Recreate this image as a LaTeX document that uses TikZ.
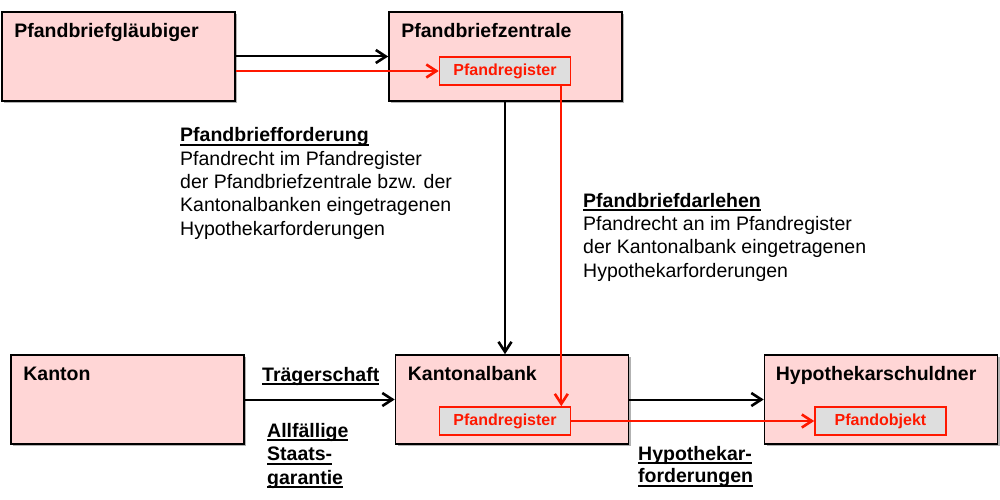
\documentclass[tikz,border=0pt]{standalone}
\usepackage{fontspec}
\setmainfont{Liberation Sans}
\usepackage{xcolor}
\usepackage{tikz}
\usetikzlibrary{positioning}
\usetikzlibrary{arrows.meta,shadows}
\definecolor{boxpink}{RGB}{255,214,214}
\definecolor{reggray}{RGB}{222,222,222}
\definecolor{regred}{RGB}{255,24,0}
\tikzset{edge/.style = {-{Straight Barb[length=10pt,width=13pt,line width=2.6pt]}, line width=2pt}}
\newcommand{\uln}[1]{\setbox0=\hbox{#1}\rlap{\rule[-4pt]{\wd0}{1.8pt}}\box0}

\begin{document}
\begin{tikzpicture}[x=1pt,y=-1pt,
    main node/.style={draw,line width=1.6pt,fill=boxpink,minimum width=233pt,minimum height=89pt,inner sep=0pt,
        drop shadow={shadow xshift=2pt,shadow yshift=-2pt,fill=black!30,opacity=1}},
    reg node/.style={draw=regred,line width=1.6pt,fill=reggray,text=regred,minimum width=131pt,minimum height=28pt,
        inner sep=0pt,font=\fontsize{16}{19}\selectfont\bfseries},
    title/.style={anchor=base west,inner sep=0pt,font=\fontsize{19.5}{23.5}\selectfont\bfseries},
    note/.style={anchor=base west,align=left,inner sep=0pt,font=\fontsize{19.5}{23.3}\selectfont}]
    \useasboundingbox (0,0) rectangle (1000,500);

    % boxes
    \node[main node] (glaeubiger) at (118.5,56.5) {};
    \node[main node] (zentrale) at (505.5,56.5) {};
    \node[main node] (kanton) at (127.5,399.5) {};
    \node[main node] (kantonalbank) at (512,399.5) {};
    \node[main node] (schuldner) at (881,399.5) {};

    \node[title] (glaeubigerT) at ([shift={(13,26)}]glaeubiger.north west) {Pfandbriefgläubiger};
    \node[title] (zentraleT) at ([shift={(13,26)}]zentrale.north west) {Pfandbriefzentrale};
    \node[title] (kantonT) at ([shift={(13,26)}]kanton.north west) {Kanton};
    \node[title] (kantonalbankT) at ([shift={(13,26)}]kantonalbank.north west) {Kantonalbank};
    \node[title] (schuldnerT) at ([shift={(12,26)}]schuldner.north west) {Hypothekarschuldner};

    % registers
    \node[reg node] (regZ) at (505,71) {Pfandregister};
    \node[reg node] (regK) at (505,421) {Pfandregister};
    \node[reg node] (objekt) at (880.5,421) {Pfandobjekt};

    % labels (base = last line)
    \node[note] (forderung) at (180,235) {\textbf{\uln{Pfandbriefforderung}}\\Pfandrecht im Pfandregister\\der Pfandbriefzentrale bzw. der\\Kantonalbanken eingetragenen\\Hypothekarforderungen};
    \node[note] (darlehen) at (583,277) {\textbf{\uln{Pfandbriefdarlehen}}\\Pfandrecht an im Pfandregister\\der Kantonalbank eingetragenen\\Hypothekarforderungen};
    \node[note,font=\fontsize{19.5}{23.5}\selectfont\bfseries] (traeger) at (262,381) {\uln{Trägerschaft}};
    \node[note,font=\fontsize{19.5}{23.5}\selectfont\bfseries] (garantie) at (267,484) {\uln{Allfällige}\\\uln{Staats-}\\\uln{garantie}};
    \node[note,font=\fontsize{19.5}{22.5}\selectfont\bfseries] (hypoford) at (638,482.5) {\uln{Hypothekar-}\\\uln{forderungen}};

    % connectors
    \path[edge] (glaeubiger) edge (zentrale);
    \path[edge,regred] (glaeubiger.east |- regZ) edge (regZ.west);
    \path[edge] (zentrale.south -| regZ) edge (kantonalbank.north -| regZ);
    \path[edge,regred] ([xshift=-10pt]regZ.south east) edge ([xshift=-10pt]regK.north east);
    \path[edge] (kanton) edge (kantonalbank);
    \path[edge] (kantonalbank) edge (schuldner);
    \path[edge,regred] (regK) edge (objekt);
\end{tikzpicture}
\end{document}
